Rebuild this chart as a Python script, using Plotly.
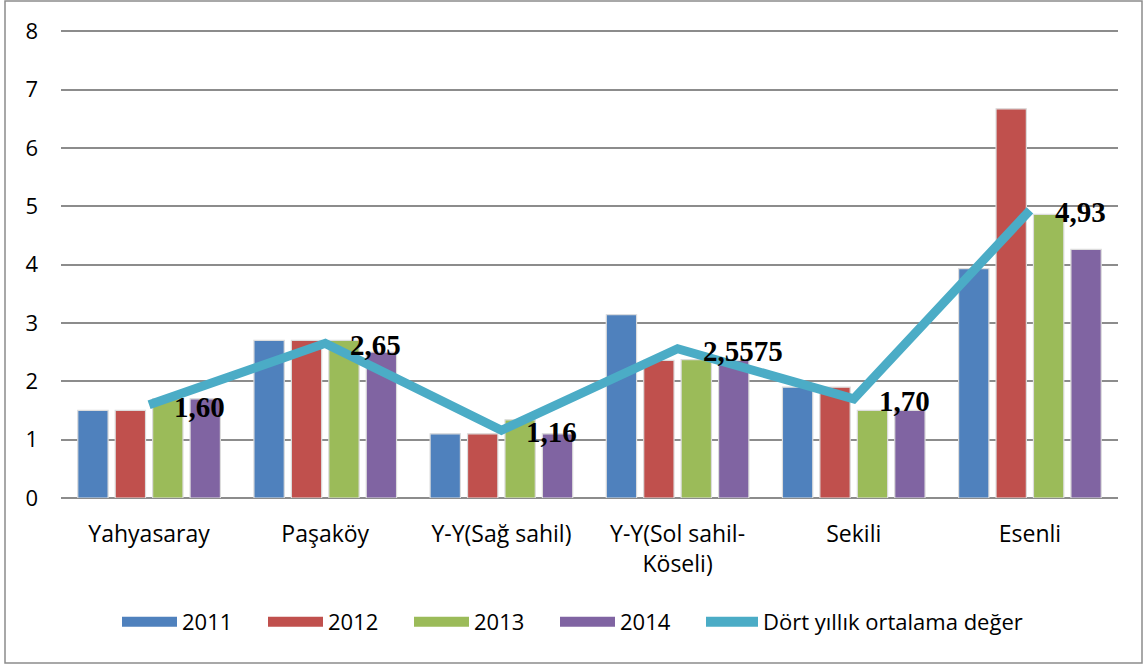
import plotly.graph_objects as go

categories = ["Yahyasaray", "Paşaköy", "Y-Y(Sağ sahil)", "Y-Y(Sol sahil-<br>Köseli)", "Sekili", "Esenli"]
v2011 = [1.5, 2.7, 1.1, 3.14, 1.9, 3.93]
v2012 = [1.5, 2.7, 1.1, 2.36, 1.9, 6.67]
v2013 = [1.7, 2.7, 1.34, 2.37, 1.5, 4.86]
v2014 = [1.7, 2.5, 1.1, 2.36, 1.5, 4.26]
avg = [1.60, 2.65, 1.16, 2.5575, 1.70, 4.93]
avg_labels = ["1,60", "2,65", "1,16", "2,5575", "1,70", "4,93"]
y_ticks = [0, 1, 2, 3, 4, 5, 6, 7, 8]
series_names = ["2011", "2012", "2013", "2014"]
avg_name = "Dört yıllık ortalama değer"

colors = ["#4F81BD", "#C0504D", "#9BBB59", "#8064A2"]
line_color = "#4BACC6"
series = list(zip(series_names, [v2011, v2012, v2013, v2014]))

fig = go.Figure()
for (name, vals), c in zip(series, colors):
    fig.add_trace(go.Bar(x=categories, y=vals, name=name, showlegend=False,
                         marker=dict(color=c, line=dict(color="#dcdcdc", width=1.2))))

fig.add_trace(go.Scatter(x=categories, y=avg, name=avg_name, mode="lines", showlegend=False,
                         line=dict(color=line_color, width=9)))

# legend entries (symbols drawn as thick strokes to mimic rectangles)
for name, c in zip(series_names, colors):
    fig.add_trace(go.Scatter(x=[None], y=[None], mode="lines", name=name, legend="legend",
                             line=dict(color=c, width=15)))
fig.add_trace(go.Scatter(x=[None], y=[None], mode="lines", name=avg_name, legend="legend2",
                         line=dict(color=line_color, width=10)))

for cat, v, lab in zip(categories, avg, avg_labels):
    fig.add_annotation(x=cat, y=v, text=lab, showarrow=False, xanchor="left", yanchor="middle",
                       xshift=23, yshift=-2,
                       font=dict(family="Liberation Serif", size=29, color="black", weight="bold"))

W, H = 1146, 666
ml, mr, mt, mb = 61, 28, 30, 168
pw, ph = W - ml - mr, H - mt - mb
fig.add_shape(type="rect", xref="paper", yref="paper",
              x0=(5 - ml) / pw, x1=(1142 - ml) / pw,
              y0=(H - mb - 663) / ph, y1=(H - mb - 1) / ph,
              line=dict(color="#8c8c8c", width=1.5), layer="below")

leg_y = (H - mb - 622) / ph
fig.update_layout(
    width=W, height=H, margin=dict(l=ml, r=mr, t=mt, b=mb, autoexpand=False),
    paper_bgcolor="white", plot_bgcolor="white",
    barmode="group", bargap=0.15, bargroupgap=0.19,
    font=dict(family="Open Sans", size=23, color="black"),
    showlegend=True,
    legend=dict(orientation="h", x=(117 - ml) / pw, xanchor="left", y=leg_y, yanchor="middle",
                font=dict(size=22), itemwidth=55, entrywidth=76, traceorder="normal"),
    legend2=dict(orientation="h", x=(701 - ml) / pw, xanchor="left", y=leg_y, yanchor="middle",
                 font=dict(size=22), itemwidth=52),
    xaxis=dict(showgrid=False, showline=False, ticks="", tickfont=dict(size=23), ticklabelstandoff=20),
    yaxis=dict(range=[0, 8.02], tickvals=y_ticks, showgrid=True, gridcolor="#8c8c8c", gridwidth=1.5,
               zeroline=True, zerolinecolor="#8c8c8c", zerolinewidth=1.5,
               ticklabelstandoff=22, tickfont=dict(size=22)),
)
fig.write_html("out.html", config={"displayModeBar": False},
               post_script="document.body.style.margin='0';")
